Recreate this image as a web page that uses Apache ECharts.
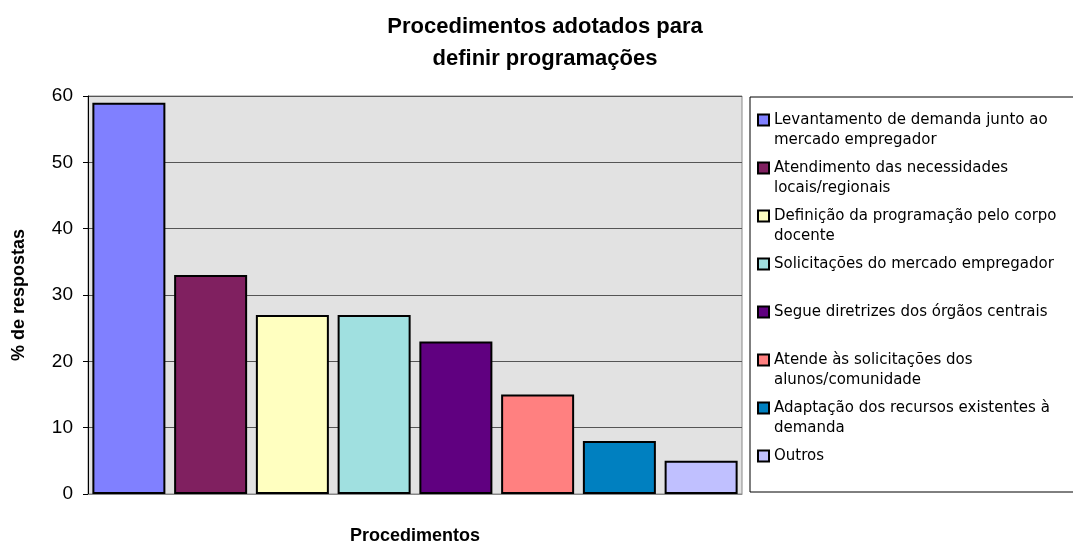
<!DOCTYPE html>
<html>
<head>
    <meta charset="utf-8">
    <title>Procedimentos adotados</title>
    <script src="https://cdn.jsdelivr.net/npm/echarts@6/dist/echarts.min.js"></script>
</head>
<body style="margin:0;background:#fff;">
<div id="main" style="width:1073px;height:544px;"></div>
<script type="text/javascript">
    // dados do gráfico
    var categorias = [
        'Levantamento de demanda junto ao mercado empregador',
        'Atendimento das necessidades locais/regionais',
        'Definição da programação pelo corpo docente',
        'Solicitações do mercado empregador',
        'Segue diretrizes dos órgãos centrais',
        'Atende às solicitações dos alunos/comunidade',
        'Adaptação dos recursos existentes à demanda',
        'Outros'
    ];
    // texto da legenda, quebrado em linhas como no original
    var legendaLinhas = [
        ['Levantamento de demanda junto ao', 'mercado empregador'],
        ['Atendimento das necessidades', 'locais/regionais'],
        ['Definição da programação pelo corpo', 'docente'],
        ['Solicitações do mercado empregador'],
        ['Segue diretrizes dos órgãos centrais'],
        ['Atende às solicitações dos', 'alunos/comunidade'],
        ['Adaptação dos recursos existentes à', 'demanda'],
        ['Outros']
    ];
    var valores = [59, 33, 27, 27, 23, 15, 8, 5];
    var cores = ['#8080ff', '#802060', '#ffffc0', '#a0e0e0', '#600080', '#ff8080', '#0080c0', '#c0c0ff'];
    var ticksY = [0, 10, 20, 30, 40, 50, 60];

    var myChart = echarts.init(document.getElementById('main'));

    var series = categorias.map(function (nome, i) {
        var d = categorias.map(function (c, j) { return j === i ? valores[i] : '-'; });
        return {
            name: nome,
            type: 'bar',
            stack: 'total',
            barWidth: 73,
            data: d,
            itemStyle: { color: cores[i], borderColor: '#000', borderWidth: 2 },
            emphasis: { disabled: true }
        };
    });

    var option = {
        animation: false,
        title: {
            text: 'Procedimentos adotados para\ndefinir programações',
            left: 540,
            textAlign: 'center',
            top: 6,
            textStyle: { fontFamily: 'Liberation Sans', fontSize: 22, fontWeight: 'bold', color: '#000', lineHeight: 32 }
        },
        graphic: [{
            type: 'rect',
            shape: { x: 750, y: 97, width: 340, height: 395 },
            style: { fill: '#fff', stroke: '#000', lineWidth: 1 },
            z: -1
        }],
        legend: {
            orient: 'vertical',
            left: 757,
            top: 90,
            padding: 0,
            itemGap: -12,
            itemWidth: 11,
            itemHeight: 11,
            icon: 'rect',
            selectedMode: false,
            data: categorias,
            formatter: function (nome) {
                var linhas = legendaLinhas[categorias.indexOf(nome)];
                return '\n' + linhas[0] + '\n' + (linhas[1] || '');
            },
            textStyle: { fontFamily: 'DejaVu Sans', fontSize: 15, color: '#000', lineHeight: 20 }
        },
        grid: {
            left: 88, right: 331, top: 96, bottom: 50,
            outerBoundsMode: 'none',
            containLabel: false,
            show: true,
            backgroundColor: '#e2e2e2',
            borderColor: '#888',
            borderWidth: 1
        },
        xAxis: {
            type: 'category',
            data: categorias,
            name: 'Procedimentos',
            nameLocation: 'middle',
            nameGap: 33,
            nameTextStyle: { fontFamily: 'Liberation Sans', fontSize: 18, fontWeight: 'bold', color: '#000' },
            axisLabel: { show: false },
            axisTick: { show: false },
            axisLine: { lineStyle: { color: '#888', width: 1 } }
        },
        yAxis: {
            type: 'value',
            min: ticksY[0],
            max: ticksY[ticksY.length - 1],
            interval: 10,
            name: '% de respostas',
            nameLocation: 'middle',
            nameGap: 60,
            nameTextStyle: { fontFamily: 'Liberation Sans', fontSize: 18, fontWeight: 'bold', color: '#000' },
            axisLine: { show: true, lineStyle: { color: '#000', width: 1 } },
            axisTick: { show: true, inside: false, length: 5, lineStyle: { color: '#000' } },
            axisLabel: { fontFamily: 'Liberation Sans', fontSize: 19, color: '#000', margin: 15 },
            splitLine: { show: true, lineStyle: { color: '#555', width: 1 } }
        },
        series: series
    };
    myChart.setOption(option);
</script>
</body>
</html>
